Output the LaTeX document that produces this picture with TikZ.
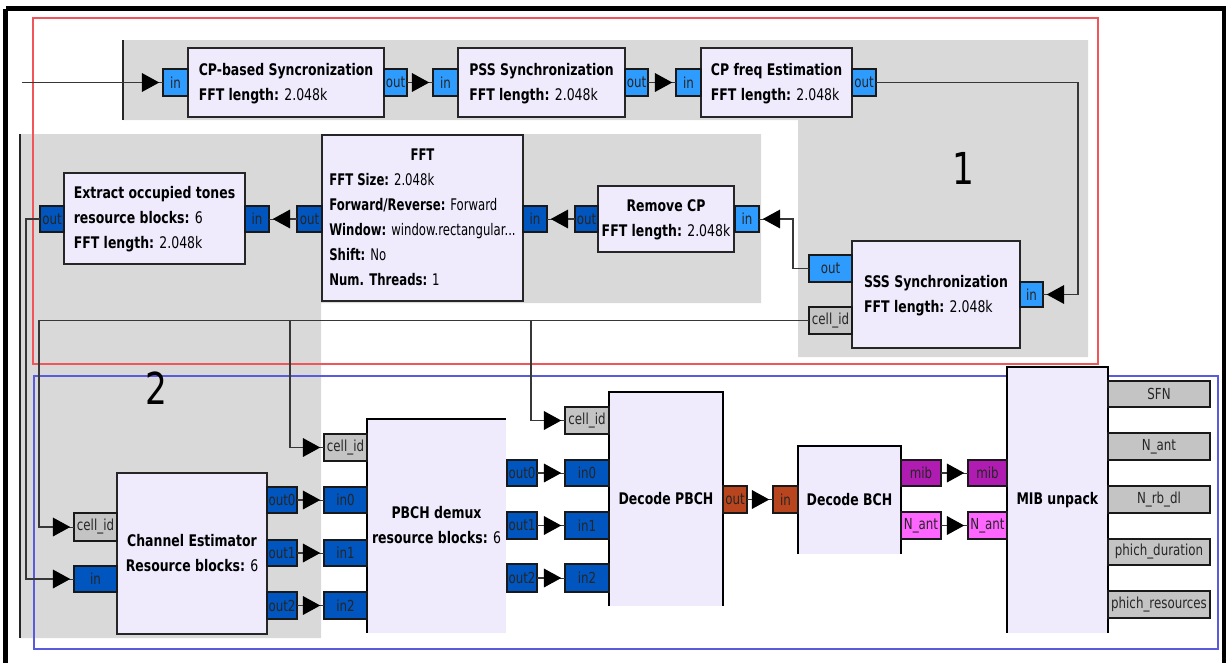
\documentclass[tikz,border=0pt]{standalone}
\usepackage{fontspec}
\setmainfont{DejaVu Sans}[FakeStretch=0.78]
\newfontfamily\narrowfont{DejaVu Sans}[FakeStretch=0.73]
\usetikzlibrary{arrows.meta}
\definecolor{bgray}{RGB}{217,217,217}
\definecolor{blockfill}{RGB}{239,235,253}
\definecolor{lblue}{RGB}{46,155,255}
\definecolor{dblue}{RGB}{0,85,190}
\definecolor{pgray}{RGB}{196,196,196}
\definecolor{brownp}{RGB}{185,69,30}
\definecolor{purp}{RGB}{176,28,178}
\definecolor{pinkp}{RGB}{255,102,255}
\definecolor{redr}{RGB}{240,85,90}
\definecolor{bluer}{RGB}{90,90,220}
\definecolor{wire}{RGB}{55,55,55}
\newcommand\bx[7][]{\node[#1,minimum width={(#5-#3)*0.75pt},minimum height={(#6-#4)*0.75pt}] (#2) at ({(#3+#5)/2},{(#4+#6)/2}) {#7};}
\newcommand\blines[2]{\begin{tabular}{@{}l@{}}\multicolumn{1}{@{}c@{}}{\textbf{#1}}\\#2\end{tabular}}
\begin{document}
\begin{tikzpicture}[x=0.75pt,y=-0.75pt,
  blk/.style={fill=blockfill,draw=black!85,line width=1.1pt,inner sep=0pt,outer sep=0pt,
    font=\fontsize{12}{18.75}\selectfont},
  blkopen/.style={fill=blockfill,inner sep=0pt,outer sep=0pt,font=\fontsize{12}{18.75}\selectfont},
  port/.style={draw=black!90,line width=0.9pt,inner sep=0pt,outer sep=0pt,text=black!85,
    font=\fontsize{11.4}{13}\selectfont},
  plb/.style={port,fill=lblue},
  pdb/.style={port,fill=dblue},
  pgr/.style={port,fill=pgray},
  pbr/.style={port,fill=brownp},
  ppu/.style={port,fill=purp},
  ppk/.style={port,fill=pinkp},
  conn/.style={draw=wire,line width=0.9pt},
  arr/.style={conn,preaction={draw=wire,-,shorten >=0pt},
    -{Triangle[length=13pt,width=14pt,black]},shorten >=2.8pt},
  bignum/.style={font=\fontsize{33}{36}\selectfont,inner sep=0pt}]
\useasboundingbox (0,0) rectangle (1228,662);
\clip (0,0) rectangle (1228,662);
\fill[white] (0,0) rectangle (1228,662);
% grey regions
\fill[bgray] (123,40) -- (1088,40) -- (1088,357) -- (798,357) -- (798,120) -- (123,120) -- cycle;
\fill[bgray] (20,134) -- (761,134) -- (761,303) -- (321,303) -- (321,638) -- (20,638) -- cycle;
\draw[black!85,line width=1.1pt] (123,40) -- (123,120);
\draw[black!85,line width=1.1pt] (20,134) -- (20,638);
% outer frame
\draw[black,line width=3.2pt] (5.5,8.5) -- (1224,8.5) -- (1224,670);
\draw[black,line width=3.2pt] (5.5,8.5) -- (5.5,670);
% region outlines
\draw[redr,line width=1.1pt] (33,18) rectangle (1098,364);
\draw[bluer,line width=1.0pt] (34,376) rectangle (1218,649);
% numbers
\node[bignum] (n1) at (963,168) {1};
\node[bignum] (n2) at (156,388) {2};
% blocks
\bx[blk]{cps}{188}{48}{384}{117}{\blines{CP-based Syncronization}{\textbf{FFT length:} 2.048k}}
\bx[blk]{pss}{458}{48}{625}{117}{\blines{PSS Synchronization}{\textbf{FFT length:} 2.048k}}
\bx[blk]{cpf}{701}{48}{852}{117}{\blines{CP freq Estimation}{\textbf{FFT length:} 2.048k}}
\bx[blk]{sss}{852}{241}{1020}{348}{\blines{SSS Synchronization}{\textbf{FFT length:} 2.048k}}
\bx[blk]{rcp}{598}{186}{734}{252}{\blines{Remove CP}{\textbf{FFT length:} 2.048k}}
\bx[blk]{fft}{322}{135}{523}{301}{\narrowfont\blines{FFT}{\textbf{FFT Size:} 2.048k\\\textbf{Forward/Reverse:} Forward\\\textbf{Window:} window.rectangular...\\\textbf{Shift:} No\\\textbf{Num. Threads:} 1}}
\bx[blk]{ext}{64}{173}{245}{264}{\blines{Extract occupied tones}{\textbf{resource blocks:} 6\\\textbf{FFT length:} 2.048k}}
\bx[blk]{ce}{117}{473}{267}{634}{\blines{Channel Estimator}{\textbf{Resource blocks:} 6}}
\bx[blkopen]{pd}{367}{419}{506}{633}{\blines{PBCH demux}{\textbf{resource blocks:} 6}}
\bx[blkopen]{dp}{609}{392}{723}{606}{\textbf{Decode PBCH}}
\bx[blkopen]{db}{798}{446}{901}{554}{\textbf{Decode BCH}}
\bx[blkopen]{mu}{1007}{367}{1108}{633}{\textbf{MIB unpack}}
\draw[black,line width=1.2pt] (pd.south west) -- (pd.north west) -- (pd.north east);
\draw[black,line width=1.2pt] (dp.south west) -- (dp.north west) -- (dp.north east) -- (dp.south east);
\draw[black,line width=1.2pt] (db.south west) -- (db.north west) -- (db.north east) -- (db.south east);
\draw[black,line width=1.2pt] (mu.south west) -- (mu.north west) -- (mu.north east) -- (mu.south east);
% ports
\bx[plb]{cpsIn}{163}{69}{188}{96}{in}
\bx[plb]{cpsOut}{384}{69}{407}{96}{out}
\bx[plb]{pssIn}{433}{69}{458}{96}{in}
\bx[plb]{pssOut}{625}{69}{648}{96}{out}
\bx[plb]{cpfIn}{676}{69}{701}{96}{in}
\bx[plb]{cpfOut}{852}{69}{876}{96}{out}
\bx[plb]{sssIn}{1020}{282}{1043}{307}{in}
\bx[plb]{sssOut}{809}{255}{852}{282}{out}
\bx[pgr]{sssCell}{809}{307}{852}{334}{cell\_id}
\bx[plb]{rcpIn}{735}{206}{759}{232}{in}
\bx[pdb]{rcpOut}{575}{206}{598}{232}{out}
\bx[pdb]{fftIn}{523}{206}{547}{232}{in}
\bx[pdb]{fftOut}{297}{206}{322}{232}{out}
\bx[pdb]{extIn}{245}{206}{269}{232}{in}
\bx[pdb]{extOut}{40}{206}{64}{232}{out}
\bx[pgr]{ceCell}{74}{513}{117}{541}{cell\_id}
\bx[pdb]{ceIn}{74}{566}{117}{592}{in}
\bx[pdb]{ceOut0}{267}{487}{297}{513}{out0}
\bx[pdb]{ceOut1}{267}{540}{297}{566}{out1}
\bx[pdb]{ceOut2}{267}{592}{297}{619}{out2}
\bx[pgr]{pdCell}{324}{434}{367}{461}{cell\_id}
\bx[pdb]{pdIn0}{324}{487}{367}{513}{in0}
\bx[pdb]{pdIn1}{324}{540}{367}{566}{in1}
\bx[pdb]{pdIn2}{324}{592}{367}{619}{in2}
\bx[pdb]{pdOut0}{507}{460}{537}{486}{out0}
\bx[pdb]{pdOut1}{507}{512}{537}{539}{out1}
\bx[pdb]{pdOut2}{507}{564}{537}{592}{out2}
\bx[pgr]{dpCell}{565}{407}{609}{434}{cell\_id}
\bx[pdb]{dpIn0}{565}{460}{609}{486}{in0}
\bx[pdb]{dpIn1}{565}{512}{609}{539}{in1}
\bx[pdb]{dpIn2}{565}{564}{609}{592}{in2}
\bx[pbr]{dpOut}{723}{486}{747}{513}{out}
\bx[pbr]{dbIn}{773}{486}{798}{513}{in}
\bx[ppu]{dbMib}{901}{460}{941}{486}{mib}
\bx[ppk]{dbNant}{901}{512}{941}{539}{N\_ant}
\bx[ppu]{muMib}{968}{460}{1007}{486}{mib}
\bx[ppk]{muNant}{968}{512}{1007}{539}{N\_ant}
\bx[pgr]{muSFN}{1108}{381}{1210}{407}{SFN}
\bx[pgr]{muNantO}{1108}{433}{1210}{460}{N\_ant}
\bx[pgr]{muNrb}{1108}{486}{1210}{513}{N\_rb\_dl}
\bx[pgr]{muPd}{1108}{539}{1210}{565}{phich\_duration}
\bx[pgr]{muPr}{1108}{591}{1210}{618}{phich\_resources}
% bend coordinates
\coordinate (src) at (22,0);
\coordinate (b1) at (1078,0);
\coordinate (b2) at (793,0);
\coordinate (b3) at (26,0);
\coordinate (b4) at (39,0);
\coordinate (b5) at (290,0);
\coordinate (b6) at (531,0);
% connectors
\draw[arr] (src |- cpsIn.west) -- (cpsIn.west);
\draw[arr] (cpsOut.east) -- (pssIn.west);
\draw[arr] (pssOut.east) -- (cpfIn.west);
\draw[arr] (cpfOut.east) -| (b1 |- sssIn.east) -- (sssIn.east);
\draw[arr] (sssOut.west) -| (b2 |- rcpIn.east) -- (rcpIn.east);
\draw[arr] (rcpOut.west) -- (fftIn.east);
\draw[arr] (fftOut.west) -- (extIn.east);
\draw[arr] (extOut.west) -| (b3 |- ceIn.west) -- (ceIn.west);
\draw[arr] (sssCell.west) -| (b4 |- ceCell.west) -- (ceCell.west);
\draw[arr] (b5 |- sssCell.west) |- (pdCell.west);
\draw[arr] (b6 |- sssCell.west) |- (dpCell.west);
\draw[arr] (ceOut0.east) -- (pdIn0.west);
\draw[arr] (ceOut1.east) -- (pdIn1.west);
\draw[arr] (ceOut2.east) -- (pdIn2.west);
\draw[arr] (pdOut0.east) -- (dpIn0.west);
\draw[arr] (pdOut1.east) -- (dpIn1.west);
\draw[arr] (pdOut2.east) -- (dpIn2.west);
\draw[arr] (dpOut.east) -- (dbIn.west);
\draw[arr] (dbMib.east) -- (muMib.west);
\draw[arr] (dbNant.east) -- (muNant.west);
\end{tikzpicture}
\end{document}
